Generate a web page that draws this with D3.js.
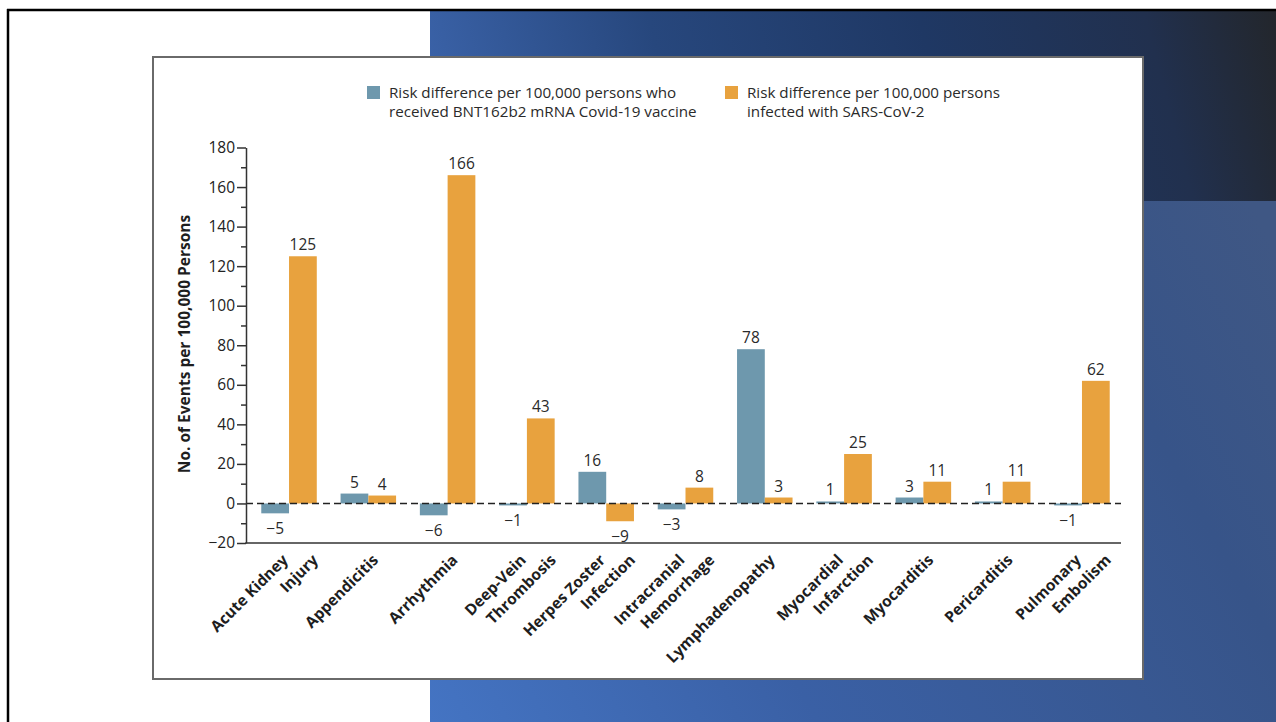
<!DOCTYPE html>
<html>
<head>
<meta charset="utf-8">
<script src="https://cdn.jsdelivr.net/npm/d3@7"></script>
<style>
  html, body { margin: 0; padding: 0; background: #ffffff; }
  svg { display: block; }
  text { font-family: "Open Sans", "Noto Sans", sans-serif; }
</style>
</head>
<body>
<svg id="slide" width="1276" height="722"></svg>
<script>
// Adverse events: risk differences per 100,000 persons
const categories = [
  "Acute Kidney\nInjury", "Appendicitis", "Arrhythmia", "Deep-Vein\nThrombosis",
  "Herpes Zoster\nInfection", "Intracranial\nHemorrhage", "Lymphadenopathy",
  "Myocardial\nInfarction", "Myocarditis", "Pericarditis", "Pulmonary\nEmbolism"
];
const vaccineValues   = [-5, 5, -6, -1, 16, -3, 78, 1, 3, 1, -1];
const infectionValues = [125, 4, 166, 43, -9, 8, 3, 25, 11, 11, 62];
const seriesNames = ["vaccine", "infection"];
const legendLines = [
  ["Risk difference per 100,000 persons who", "received BNT162b2 mRNA Covid-19 vaccine"],
  ["Risk difference per 100,000 persons", "infected with SARS-CoV-2"]
];
const yTickValues = [-20, 0, 20, 40, 60, 80, 100, 120, 140, 160, 180];
const yMinorTicks = [-10, 10, 30, 50, 70, 90, 110, 130, 150, 170];
const yTitle = "No. of Events per 100,000 Persons";

const colors = { vaccine: "#6e98ad", infection: "#e8a23e" };

const svg = d3.select("#slide");
const defs = svg.append("defs");

// ---- slide background ----
const gTop = defs.append("linearGradient").attr("id", "bgTop")
  .attr("gradientUnits", "userSpaceOnUse")
  .attr("x1", 430).attr("y1", 220).attr("x2", 1276).attr("y2", 0);
[[0, "#3d66ae"], [0.3, "#27477d"], [0.6, "#1f3864"], [0.85, "#21304e"], [1, "#23262b"]]
  .forEach(([o, c]) => gTop.append("stop").attr("offset", o).attr("stop-color", c));

const gBot = defs.append("linearGradient").attr("id", "bgBottom")
  .attr("gradientUnits", "userSpaceOnUse")
  .attr("x1", 430).attr("y1", 722).attr("x2", 1276).attr("y2", 250);
[[0, "#4474c3"], [0.35, "#3a60a5"], [0.8, "#375489"], [1, "#3f5784"]]
  .forEach(([o, c]) => gBot.append("stop").attr("offset", o).attr("stop-color", c));

svg.append("rect").attr("x", 430).attr("y", 201).attr("width", 846).attr("height", 521)
  .attr("fill", "url(#bgBottom)");
svg.append("rect").attr("x", 430).attr("y", 10).attr("width", 846).attr("height", 191)
  .attr("fill", "url(#bgTop)");

// slide frame lines
svg.append("line").attr("x1", 7).attr("x2", 1276).attr("y1", 10).attr("y2", 10)
  .attr("stroke", "#000").attr("stroke-width", 2.5);
svg.append("line").attr("x1", 8).attr("x2", 8).attr("y1", 9).attr("y2", 722)
  .attr("stroke", "#000").attr("stroke-width", 2.5);

// ---- chart panel ----
svg.append("rect").attr("x", 153).attr("y", 57).attr("width", 990).attr("height", 622)
  .attr("fill", "#ffffff").attr("stroke", "#6a6a6a").attr("stroke-width", 2);

// ---- scales ----
const y = d3.scaleLinear().domain([-20, 180]).range([543, 147.5]);
const x0 = d3.scaleBand().domain(categories).range([247, 1124])
  .paddingInner(0.3).paddingOuter(0.18);
const x1 = d3.scaleBand().domain(seriesNames).range([0, x0.bandwidth()]).padding(0);

const rows = categories.map((c, i) => ({
  category: c,
  values: [
    { key: "vaccine", value: vaccineValues[i] },
    { key: "infection", value: infectionValues[i] }
  ]
}));

const plot = svg.append("g");

// bars
const groups = plot.selectAll("g.group").data(rows).join("g")
  .attr("class", "group")
  .attr("transform", d => `translate(${x0(d.category)},0)`);

groups.selectAll("rect").data(d => d.values).join("rect")
  .attr("x", d => x1(d.key))
  .attr("width", x1.bandwidth())
  .attr("y", d => y(Math.max(0, d.value)))
  .attr("height", d => Math.abs(y(d.value) - y(0)))
  .attr("fill", d => colors[d.key]);

// value labels
const fmt = v => (v < 0 ? "\u2212" + Math.abs(v) : String(v));
groups.selectAll("text.val").data(d => d.values).join("text")
  .attr("class", "val")
  .attr("x", d => x1(d.key) + x1.bandwidth() / 2)
  .attr("y", d => d.value >= 0 ? y(d.value) - 6 : y(d.value) + 21)
  .attr("text-anchor", "middle")
  .attr("font-size", 15.5)
  .attr("fill", "#2a2a2a")
  .text(d => fmt(d.value));

// dashed zero line
plot.append("line")
  .attr("x1", 246).attr("x2", 1121)
  .attr("y1", y(0)).attr("y2", y(0))
  .attr("stroke", "#222").attr("stroke-width", 1.6)
  .attr("stroke-dasharray", "7,4");

// y axis
const yAxis = d3.axisLeft(y).tickValues(yTickValues).tickSize(9).tickSizeOuter(0)
  .tickPadding(2).tickFormat(v => fmt(v));
const yG = plot.append("g").attr("transform", "translate(246,0)").call(yAxis);
yG.select(".domain").attr("stroke", "#333").attr("stroke-width", 1.5);
yG.selectAll(".tick line").attr("stroke", "#333").attr("stroke-width", 1.5);
yG.selectAll(".tick text").attr("font-size", 15.5).attr("fill", "#222")
  .attr("font-family", "'Open Sans', sans-serif");

const yMinor = d3.axisLeft(y).tickValues(yMinorTicks).tickSize(5).tickSizeOuter(0).tickFormat("");
const yM = plot.append("g").attr("transform", "translate(246,0)").call(yMinor);
yM.select(".domain").remove();
yM.selectAll(".tick line").attr("stroke", "#333").attr("stroke-width", 1.5);

// x axis baseline
plot.append("line")
  .attr("x1", 245.25).attr("x2", 1121)
  .attr("y1", y(-20)).attr("y2", y(-20))
  .attr("stroke", "#333").attr("stroke-width", 1.5);

// category labels, rotated
const lineOffsets = { 1: [11], 2: [0, 30] };
rows.forEach(r => {
  const lines = r.category.split("\n");
  const cx = x0(r.category) + x0.bandwidth() / 2;
  lines.forEach((ln, i) => {
    plot.append("text")
      .attr("transform", `translate(${cx + lineOffsets[lines.length][i]},561) rotate(-45)`)
      .attr("text-anchor", "end")
      .attr("font-size", 15.5)
      .attr("font-weight", 700)
      .attr("fill", "#1e1e1e")
      .text(ln);
  });
});

// y axis title
plot.append("text")
  .attr("transform", "translate(190,344) rotate(-90)")
  .attr("text-anchor", "middle")
  .attr("font-family", "Roboto, 'Open Sans', sans-serif")
  .attr("font-size", 15.5)
  .attr("font-weight", 700)
  .attr("fill", "#1e1e1e")
  .text(yTitle);

// legend
const legendX = [367, 725];
seriesNames.forEach((k, i) => {
  const lg = svg.append("g").attr("transform", `translate(${legendX[i]},86)`);
  lg.append("rect").attr("width", 13).attr("height", 13).attr("fill", colors[k]);
  legendLines[i].forEach((t, j) => {
    lg.append("text")
      .attr("x", 22).attr("y", 12 + j * 19)
      .attr("font-size", 15.2)
      .attr("fill", "#2a2a2a")
      .text(t);
  });
});
</script>
</body>
</html>
